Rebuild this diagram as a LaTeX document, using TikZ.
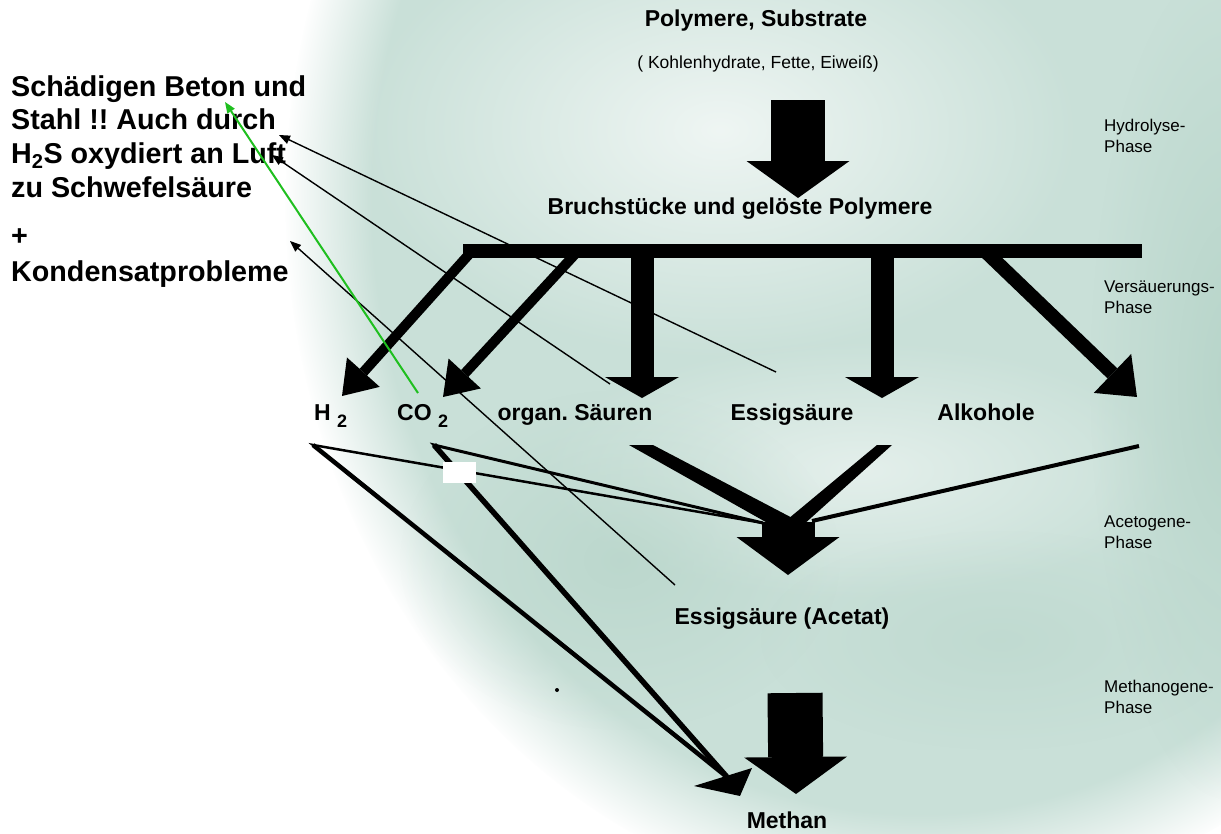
\documentclass[tikz,border=0pt]{standalone}
\usepackage{fontspec}
\setmainfont{Liberation Sans}
\frenchspacing
\usetikzlibrary{arrows.meta,positioning,calc,fadings}
\definecolor{cloud}{HTML}{C9E0D8}
\definecolor{clouddark}{HTML}{B3D2C6}
\definecolor{hintgreen}{HTML}{1FBF1F}
\newcommand{\pxfont}[2]{\fontsize{#1}{#2}\selectfont}
\tikzfading[name=softpuff, inner color=transparent!0, outer color=transparent!100]
\pgfdeclareradialshading{blobmask}{\pgfpointorigin}{color(0bp)=(white); color(21.5bp)=(white); color(25bp)=(black); color(50bp)=(black)}
\pgfdeclarefading{blobfade}{\pgfuseshading{blobmask}}

\tikzset{
  lbl/.style={font=\pxfont{23}{28}\bfseries, inner sep=0pt, anchor=base},
  phase/.style={font=\pxfont{17}{21}, align=left, anchor=west, inner sep=0pt},
  warntext/.style={font=\pxfont{28.7}{33.7}\bfseries, align=left, anchor=north west, inner sep=0pt},
  puff/.style={opacity=#1, path fading=softpuff},
  bigarrow/.style={line width=54pt, -{Triangle[length=37pt,width=103pt,line width=0pt]}},
  barrow/.style={line width=23pt, -{Triangle[length=21pt,width=74pt,line width=0pt]}},
  darrow/.style={line width=#1, -{Triangle[length=32pt,width=44pt,line width=0pt]}},
  hint/.style={line width=1.4pt, -{Triangle[length=11pt,width=9pt,line width=0pt]}},
}

\begin{document}
\begin{tikzpicture}[x=1pt,y=-1pt]
  \useasboundingbox (0,0) rectangle (1221,833);
  \clip (0,0) rectangle (1221,833);
  \fill[white] (0,0) rectangle (1221,833);
  \fill[cloud, path fading=blobfade] (920,200) ellipse (634 and 710);
  \fill[white,puff=.7] (720,130) ellipse (360 and 230);
  \fill[white,puff=.5] (860,470) ellipse (320 and 130);
  \fill[clouddark,puff=.8] (1230,380) ellipse (140 and 420);
  \fill[clouddark,puff=.6] (620,560) ellipse (220 and 170);
  \fill[clouddark,puff=.4] (1000,640) ellipse (240 and 110);

  \node[lbl] (poly) at (756,26) {Polymere, Substrate};
  \node[font=\pxfont{17.5}{21}, inner sep=0pt, anchor=base] (kohl) at (758,68) {( Kohlenhydrate, Fette, Eiweiß)};
  \node[lbl] (bruch) at (740,214) {Bruchstücke und gelöste Polymere};
  \node[lbl, anchor=base west] (h2) at (314,420) {H \raisebox{-7pt}{\pxfont{18}{20}2}};
  \node[lbl, anchor=base west] (co2) at (397,420) {CO \raisebox{-7pt}{\pxfont{18}{20}2}};
  \node[lbl] (org) at (575,420) {organ. Säuren};
  \node[lbl] (essig) at (792,420) {Essigsäure};
  \node[lbl] (alk) at (986,420) {Alkohole};
  \node[lbl] (acetat) at (782,624) {Essigsäure (Acetat)};
  \node[lbl] (methan) at (787,828) {Methan};
  \node[phase] (hydro) at (1104,136) {Hydrolyse-\\Phase};
  \node[phase] (versa) at (1104,297) {Versäuerungs-\\Phase};
  \node[phase] (aceto) at (1104,532) {Acetogene-\\Phase};
  \node[phase] (metha) at (1104,697) {Methanogene-\\Phase};
  \node[warntext] (warn) at (11,75)
    {Schädigen Beton und\\Stahl !! Auch durch\\H\textsubscript{2}S oxydiert an Luft\\zu Schwefelsäure};
  \node[warntext, font=\pxfont{28.7}{36}\bfseries] (kond) at (11,228) {+\\Kondensatprobleme};

  \coordinate (hyd-s) at (798,100);  \coordinate (hyd-e) at (798,198);
  \coordinate (bar-l) at (463,251);  \coordinate (bar-r) at (1142,251);
  \coordinate (b1) at (472,251);     \coordinate (t1) at (342,396);
  \coordinate (b2) at (578,251);     \coordinate (t2) at (443,397);
  \coordinate (b3) at (642,251);     \coordinate (t3) at (642,398);
  \coordinate (b4) at (882,251);     \coordinate (t4) at (882,398);
  \coordinate (b5) at (985,251);     \coordinate (t5) at (1137,397);
  \coordinate (h2v) at (313,445);    \coordinate (co2v) at (434,445);
  \coordinate (ac-l) at (763,523);   \coordinate (ac-r) at (812,521);
  \coordinate (ac-s) at (788,522);   \coordinate (ac-e) at (788,575);
  \coordinate (alk-v) at (1139,446);
  \coordinate (me-in) at (727,777);
  \coordinate (me-s) at (795,693);   \coordinate (me-e) at (796,794);
  \coordinate (s-a) at (776,372);    \coordinate (w-a) at (279,135);
  \coordinate (s-b) at (610,384);    \coordinate (w-b) at (272,155);
  \coordinate (s-c) at (675,585);    \coordinate (w-c) at (290,241);
  \coordinate (s-g) at (418,393);    \coordinate (w-g) at (225,102);

  \draw[bigarrow] (hyd-s) -- (hyd-e);
  \draw[line width=14pt] (bar-l) -- (bar-r);
  \draw[darrow=10pt] (b1) -- (t1);
  \draw[darrow=10pt] (b2) -- (t2);
  \draw[barrow] (b3) -- (t3);
  \draw[barrow] (b4) -- (t4);
  \draw[darrow=14pt, -{Triangle[length=34pt,width=54pt,line width=0pt]}] (b5) -- (t5);

  \fill (629,445) -- (653,445) -- (800,522) -- (780,530) -- cycle;
  \fill (877,445) -- (892,445) -- (802,526) -- (782,524) -- cycle;
  \draw[line width=4pt] (alk-v) -- (ac-r);
  \draw[line width=2.5pt, miter limit=20] (ac-l) -- (h2v) -- (me-in);
  \draw[line width=4.5pt] (h2v) -- (me-in);
  \draw[line width=3pt, miter limit=20] (ac-l) -- (co2v) -- (me-in);
  \draw[line width=5.5pt] (co2v) -- (me-in);
  \fill (694,786) -- (752,768) -- (740,796) -- cycle;
  \fill[white] (443,462) rectangle (476,483);
  \draw[line width=53pt, -{Triangle[length=38pt,width=103pt,line width=0pt]}] (ac-s) -- (ac-e);
  \draw[bigarrow, line width=55pt] (me-s) -- (me-e);
  \fill (557,690) circle (2);

  \draw[hint] (s-a) -- (w-a);
  \draw[hint] (s-b) -- (w-b);
  \draw[hint] (s-c) -- (w-c);
  \draw[hint, hintgreen, line width=2pt] (s-g) -- (w-g);
\end{tikzpicture}
\end{document}
